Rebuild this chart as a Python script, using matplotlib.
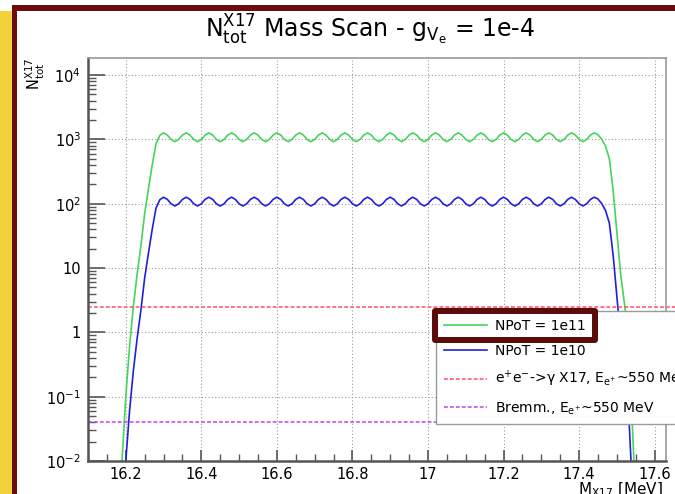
import numpy as np
import matplotlib
matplotlib.use("Agg")
import matplotlib.pyplot as plt
from matplotlib.patches import Rectangle
from matplotlib.ticker import MultipleLocator, LogLocator, NullFormatter

plt.rcParams['font.family'] = ['DejaVu Sans']
plt.rcParams['mathtext.fontset'] = 'dejavusans'
plt.rcParams['mathtext.default'] = 'regular'

# scan masses [MeV], step 0.01 from 16.17 to 17.56
mass = np.round(np.arange(16.17, 17.565, 0.01), 2)

# N_tot for NPoT = 1e11
n_1e11 = [
    1e-4, 1e-3, 0.01, 0.1, 0.6, 2.5, 8, 22, 70, 170, 400, 850, 1150,
    1260, 1165, 995, 920, 995, 1165,
    1260, 1165, 995, 920, 995, 1165,
    1260, 1165, 995, 920, 995, 1165,
    1260, 1165, 995, 920, 995, 1165,
    1260, 1165, 995, 920, 995, 1165,
    1260, 1165, 995, 920, 995, 1165,
    1260, 1165, 995, 920, 995, 1165,
    1260, 1165, 995, 920, 995, 1165,
    1260, 1165, 995, 920, 995, 1165,
    1260, 1165, 995, 920, 995, 1165,
    1260, 1165, 995, 920, 995, 1165,
    1260, 1165, 995, 920, 995, 1165,
    1260, 1165, 995, 920, 995, 1165,
    1260, 1165, 995, 920, 995, 1165,
    1260, 1165, 995, 920, 995, 1165,
    1260, 1165, 995, 920, 995, 1165,
    1260, 1165, 995, 920, 995, 1165,
    1260, 1165, 995, 920, 995, 1165,
    1260, 1165, 995, 920, 995, 1165,
    1260,
    1180, 1000, 780, 500, 160, 35, 8, 2.8, 0.8, 0.05, 2e-3, 1e-4,
]

# N_tot for NPoT = 1e10
n_1e10 = [
    1e-5, 1e-4, 1e-3, 0.01, 0.06, 0.25, 0.8, 2.2, 7, 17, 40, 85, 115,
    126, 116.5, 99.5, 92, 99.5, 116.5,
    126, 116.5, 99.5, 92, 99.5, 116.5,
    126, 116.5, 99.5, 92, 99.5, 116.5,
    126, 116.5, 99.5, 92, 99.5, 116.5,
    126, 116.5, 99.5, 92, 99.5, 116.5,
    126, 116.5, 99.5, 92, 99.5, 116.5,
    126, 116.5, 99.5, 92, 99.5, 116.5,
    126, 116.5, 99.5, 92, 99.5, 116.5,
    126, 116.5, 99.5, 92, 99.5, 116.5,
    126, 116.5, 99.5, 92, 99.5, 116.5,
    126, 116.5, 99.5, 92, 99.5, 116.5,
    126, 116.5, 99.5, 92, 99.5, 116.5,
    126, 116.5, 99.5, 92, 99.5, 116.5,
    126, 116.5, 99.5, 92, 99.5, 116.5,
    126, 116.5, 99.5, 92, 99.5, 116.5,
    126, 116.5, 99.5, 92, 99.5, 116.5,
    126, 116.5, 99.5, 92, 99.5, 116.5,
    126, 116.5, 99.5, 92, 99.5, 116.5,
    126, 116.5, 99.5, 92, 99.5, 116.5,
    126,
    118, 100, 78, 50, 16, 3.5, 0.8, 0.28, 0.08, 0.005, 2e-4, 1e-5,
]

# background levels
bkg_annihil = 2.5
bkg_bremm = 0.041

labels = ["NPoT = 1e11", "NPoT = 1e10",
          r"$e^{+}e^{-}$->γ X17, $E_{e^{+}}$~550 MeV",
          r"Bremm., $E_{e^{+}}$~550 MeV"]

xticks = [16.2, 16.4, 16.6, 16.8, 17.0, 17.2, 17.4, 17.6]
xticklabels = ["16.2", "16.4", "16.6", "16.8", "17", "17.2", "17.4", "17.6"]
yticks = [1e-2, 1e-1, 1, 10, 1e2, 1e3, 1e4]
yticklabels = [r"$10^{-2}$", r"$10^{-1}$", "1", "10", r"$10^{2}$", r"$10^{3}$", r"$10^{4}$"]

W, H = 675, 494
fig = plt.figure(figsize=(W / 100, H / 100), dpi=100)
ax = fig.add_axes([88 / W, 1 - 461 / H, (666 - 88) / W, (461 - 58) / H])

l1, = ax.plot(mass, n_1e11, color='#45d45c', lw=1.2, label=labels[0])
l2, = ax.plot(mass, n_1e10, color='#2020dc', lw=1.2, label=labels[1])
l3, = ax.plot([16.1, 17.75], [bkg_annihil, bkg_annihil], color='#ff4d60', lw=1.1,
              ls=(0, (2.5, 1.4)), clip_on=False, label=labels[2])
l4, = ax.plot([16.1, 17.75], [bkg_bremm, bkg_bremm], color='#b845f0', lw=1.1,
              ls=(0, (2.5, 1.4)), clip_on=False, label=labels[3])

ax.set_yscale('log')
ax.set_xlim(16.1, 17.63)
ax.set_ylim(1e-2, 10 ** 4.264)

ax.set_xticks(xticks)
ax.set_xticklabels(xticklabels)
ax.xaxis.set_minor_locator(MultipleLocator(0.05))
ax.set_yticks(yticks)
ax.set_yticklabels(yticklabels)
ax.yaxis.set_minor_locator(LogLocator(base=10, subs=np.arange(2, 10)))
ax.yaxis.set_minor_formatter(NullFormatter())

ax.tick_params(axis='both', which='both', direction='in', colors='#555555',
               labelcolor='black', labelsize=10.5, top=False, right=False)
ax.tick_params(axis='y', which='major', length=12, width=1.2, pad=5)
ax.tick_params(axis='y', which='minor', length=6, width=1.0)
ax.tick_params(axis='x', which='major', length=8, width=1.2, pad=4)
ax.tick_params(axis='x', which='minor', length=5, width=1.0)

for s in ['left', 'bottom']:
    ax.spines[s].set_color('#555555')
    ax.spines[s].set_linewidth(1.8)
for s in ['top', 'right']:
    ax.spines[s].set_color('#9a9a9a')
    ax.spines[s].set_linewidth(1.2)

ax.grid(True, which='major', color='#9a9a9a', linestyle=(0, (1, 2)), linewidth=0.8)

fig.text(370 / W, 1 - 37 / H,
         r"$N_{tot}^{X17}$ Mass Scan - $g_{V_{e}}$ = 1e-4",
         ha='center', va='baseline', fontsize=17)
fig.text(35 / W, 1 - 58 / H, r"$N_{tot}^{X17}$", rotation=90,
         ha='center', va='top', fontsize=10.5)
fig.text(663 / W, 0.0, r"$M_{X17}$ [MeV]", ha='right', va='baseline', fontsize=11)

leg = fig.legend([l1, l2, l3, l4], labels, loc='upper left',
                 bbox_to_anchor=(436 / W, 1 - 311 / H), fontsize=10,
                 frameon=True, fancybox=False, edgecolor='#9a9a9a', framealpha=1,
                 handlelength=3.1, handletextpad=0.6, labelspacing=0.8,
                 borderpad=0.55, borderaxespad=0)
leg.get_frame().set_linewidth(1.0)

# highlight box around first legend entry
fig.add_artist(Rectangle((435 / W, 1 - 340 / H), (595 - 435) / W, (340 - 311) / H,
                         transform=fig.transFigure, fill=False, edgecolor='#5c0a0a',
                         linewidth=4.3, joinstyle='round', zorder=10))

# slide border decorations
fig.add_artist(Rectangle((0, 0), 12 / W, (H - 11) / H, transform=fig.transFigure,
                         color='#f2d23a', lw=0, zorder=11))
fig.add_artist(Rectangle((12 / W, 0), 5 / W, (H - 5) / H, transform=fig.transFigure,
                         color='#6e0a0a', lw=0, zorder=11))
fig.add_artist(Rectangle((12 / W, 1 - 11 / H), 1, 6 / H, transform=fig.transFigure,
                         color='#6e0a0a', lw=0, zorder=11))

fig.savefig("out.png", dpi=100)
